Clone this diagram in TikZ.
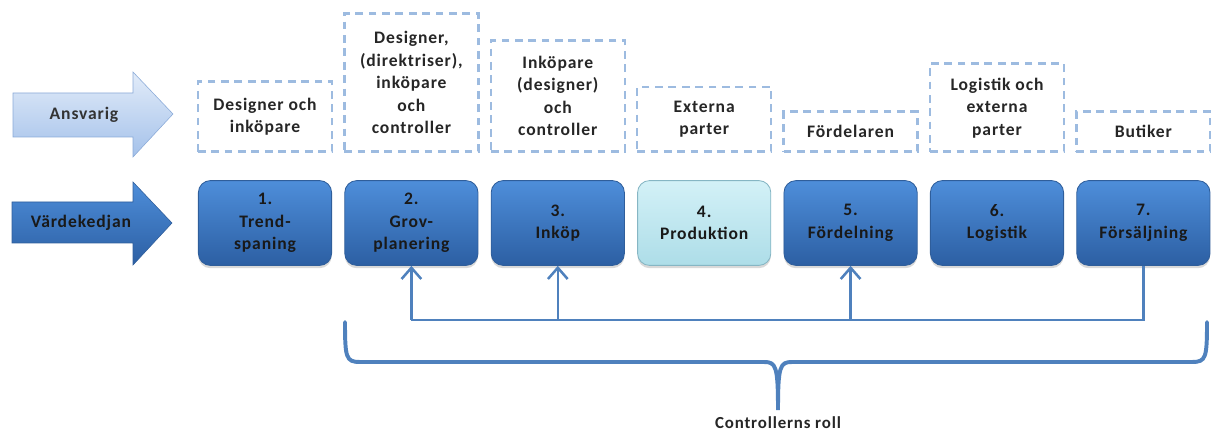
\documentclass[tikz,border=0pt]{standalone}
\usepackage{fontspec}
\setmainfont{Carlito}
\newfontfamily\chainfont{Carlito}[LetterSpace=5.0]
\usetikzlibrary{shadows,arrows.meta}

\definecolor{StageTop}{HTML}{4E8EDA}
\definecolor{StageBot}{HTML}{2C5FA3}
\definecolor{StageLine}{HTML}{2F5E9B}
\definecolor{ProdTop}{HTML}{D3F1F7}
\definecolor{ProdBot}{HTML}{ADDDE8}
\definecolor{ProdLine}{HTML}{86B6C4}
\definecolor{HeadTop}{HTML}{E2ECF9}
\definecolor{HeadBot}{HTML}{A4C1EA}
\definecolor{HeadLine}{HTML}{8AAAD8}
\definecolor{RoleLine}{HTML}{9DBBE0}
\definecolor{CtrlBlue}{HTML}{4F81BD}

\begin{document}
\begin{tikzpicture}[x=0.025cm, y=-0.025cm,
    stage/.style={draw=StageLine, line width=0.6pt, rounded corners=0.3cm,
      top color=StageTop, bottom color=StageBot, minimum width=3.33cm,
      minimum height=2.12cm, align=center, text=black!90,
      font=\chainfont\bfseries\fontsize{12.5}{16}\selectfont,
      drop shadow={opacity=0.3, shadow xshift=0pt, shadow yshift=-2pt}},
    role/.style={draw=RoleLine, line width=1.8pt, dash pattern=on 5.5pt off 4pt,
      minimum width=3.35cm, anchor=south, align=center, text=black!85,
      font=\chainfont\bfseries\fontsize{12.5}{16}\selectfont},
    ctrl/.style={draw=CtrlBlue, line width=1.8pt},
  ]
  \useasboundingbox (0,0) rectangle (1211,432);

  % row arrows
  \draw[draw=HeadLine, top color=HeadTop, bottom color=HeadBot]
    (13,93) -- (133,93) -- (133,72) -- (173,114) -- (133,157) -- (133,137) -- (13,137) -- cycle;
  \node[font=\chainfont\bfseries\fontsize{12.5}{16}\selectfont, text=black!80] (ansvarig) at (84,115) {Ansvarig};
  \draw[draw=StageLine, top color=StageTop, bottom color=StageBot]
    (12,202) -- (133,202) -- (133,182) -- (172,223) -- (133,265) -- (133,243) -- (12,243) -- cycle;
  \node[font=\chainfont\bfseries\fontsize{12.5}{16}\selectfont, text=black!90] (kedja) at (81,223) {Värdekedjan};

  % responsible parties
  \node[role, minimum height=1.75cm] (r1) at (265,153) {Designer och\\inköpare};
  \node[role, minimum height=3.45cm] (r2) at (411.4,153) {Designer,\\(direktriser),\\inköpare\\och\\controller};
  \node[role, minimum height=2.78cm] (r3) at (557.8,153) {Inköpare\\(designer)\\och\\controller};
  \node[role, minimum height=1.62cm] (r4) at (704.2,153) {Externa\\parter};
  \node[role, minimum height=1.0cm] (r5) at (850.6,153) {Fördelaren};
  \node[role, minimum height=2.2cm] (r6) at (997,153) {Logistik och\\externa\\parter};
  \node[role, minimum height=1.0cm] (r7) at (1143.4,153) {Butiker};

  % value chain
  \node[stage] (b1) at (265,223) {1.\\Trend-\\spaning};
  \node[stage] (b2) at (411.4,223) {2.\\Grov-\\planering};
  \node[stage] (b3) at (557.8,223) {3.\\Inköp};
  \node[stage, draw=ProdLine, top color=ProdTop, bottom color=ProdBot] (b4) at (704.2,223) {4.\\Produktion};
  \node[stage] (b5) at (850.6,223) {5.\\Fördelning};
  \node[stage] (b6) at (997,223) {6.\\Logistik};
  \node[stage] (b7) at (1143.4,223) {7.\\Försäljning};

  % feedback from sales
  \coordinate (bus) at (0,320);
  \draw[ctrl] (b7.south) -- (b7.south |- bus) -- (b2.south |- bus);
  \foreach \k in {2,3,5}
    \draw[ctrl, -{Straight Barb[length=8pt,width=14pt]}] (b\k.south |- bus) -- (b\k.south);

  % brace
  \draw[ctrl, line width=2.8pt, line cap=round]
    (345,322) .. controls (345,358) and (346,362) .. (360,362) -- (764,362)
    .. controls (776,362) and (778,366) .. (778,410)
    .. controls (778,366) and (780,362) .. (792,362) -- (1192,362)
    .. controls (1206,362) and (1207,358) .. (1207,322);
  \node[font=\chainfont\bfseries\fontsize{12}{14}\selectfont, text=black!85] (roll) at (778,423) {Controllerns roll};
\end{tikzpicture}
\end{document}
